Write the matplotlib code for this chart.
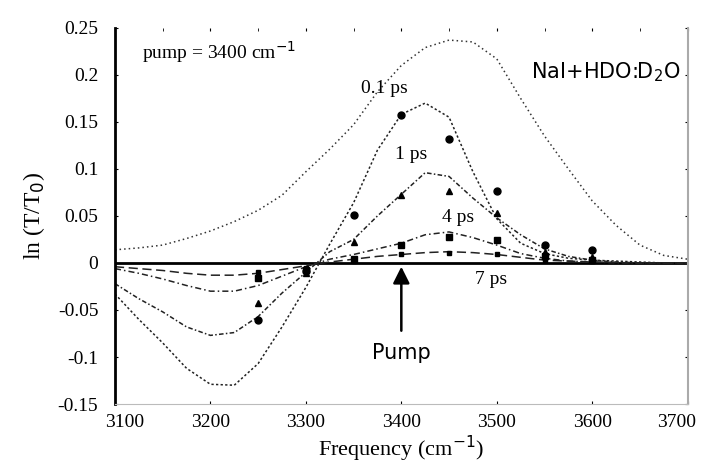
import matplotlib
matplotlib.use("Agg")
import matplotlib.pyplot as plt
import matplotlib.transforms as mtransforms
import numpy as np

# frequency grid the curves were read on (cm-1)
freq = [3100, 3125, 3150, 3175, 3200, 3225, 3250, 3275, 3300, 3325, 3350, 3375, 3400,
        3425, 3450, 3475, 3500, 3525, 3550, 3575, 3600, 3625, 3650, 3675, 3700]

# linear spectrum (broad dotted curve)
spectrum = [0.014, 0.016, 0.019, 0.026, 0.034, 0.044, 0.056, 0.072, 0.097, 0.121, 0.147, 0.182, 0.210,
            0.229, 0.237, 0.235, 0.217, 0.175, 0.135, 0.100, 0.066, 0.040, 0.019, 0.008, 0.004]

# fitted curves
fit_01ps = [-0.033, -0.060, -0.085, -0.112, -0.129, -0.130, -0.107, -0.068, -0.026, 0.020, 0.064, 0.120, 0.158,
            0.170, 0.155, 0.097, 0.047, 0.021, 0.010, 0.005, 0.003, 0.002, 0.001, 0.000, 0.000]
fit_1ps = [-0.022, -0.038, -0.052, -0.068, -0.077, -0.074, -0.057, -0.032, -0.010, 0.012, 0.025, 0.050, 0.073,
           0.096, 0.092, 0.069, 0.048, 0.030, 0.015, 0.007, 0.003, 0.001, 0.000, 0.000, 0.000]
fit_4ps = [-0.006, -0.011, -0.017, -0.024, -0.030, -0.030, -0.024, -0.014, -0.004, 0.004, 0.009, 0.015, 0.021,
           0.030, 0.033, 0.027, 0.019, 0.010, 0.005, 0.002, 0.001, 0.000, 0.000, 0.000, 0.000]
fit_7ps = [-0.004, -0.006, -0.008, -0.011, -0.013, -0.013, -0.011, -0.007, -0.003, 0.001, 0.004, 0.007, 0.009,
           0.011, 0.012, 0.011, 0.009, 0.006, 0.003, 0.002, 0.001, 0.0005, 0.000, 0.000, 0.000]

# measured points
pts_x = [3250, 3300, 3350, 3400, 3450, 3500, 3550, 3600]
pts_01ps = [-0.061, -0.009, 0.051, 0.157, 0.132, 0.076, 0.019, 0.014]
pts_1ps = [-0.043, -0.011, 0.022, 0.072, 0.076, 0.053, 0.012, 0.006]
pts_4ps = [-0.016, -0.007, 0.004, 0.019, 0.028, 0.024, 0.007, 0.003]
pts_7ps = [-0.010, -0.005, 0.002, 0.009, 0.011, 0.010, 0.003, 0.002]

xticks = [3100, 3200, 3300, 3400, 3500, 3600, 3700]
yticks = [-0.15, -0.1, -0.05, 0, 0.05, 0.1, 0.15, 0.2, 0.25]
ytick_labels = ['-0.15', '-0.1', '-0.05', '0', '0.05', '0.1', '0.15', '0.2', '0.25']

plt.rcParams['font.family'] = ['Liberation Serif', 'DejaVu Serif']

fig = plt.figure(figsize=(7.01, 4.72), dpi=100)
ax = fig.add_axes([0.164, 0.144, 0.817, 0.797])

ax.axhline(0, color='black', lw=2, zorder=1)

ax.plot(freq, spectrum, color='#333333', lw=1.1, linestyle=(0, (1, 2)))
ax.plot(freq, fit_01ps, color='#222222', lw=1.1, linestyle=(0, (1.5, 1.5)))
ax.plot(freq, fit_1ps, color='#222222', lw=1.1, linestyle=(0, (3, 1.5, 1, 1.5)))
ax.plot(freq, fit_4ps, color='#222222', lw=1.1, linestyle=(0, (4, 2, 1, 2)))
ax.plot(freq, fit_7ps, color='#222222', lw=1.1, linestyle=(0, (6, 3)))

ax.plot(pts_x, pts_01ps, 'o', color='black', ms=5, linestyle='none')
ax.plot(pts_x, pts_1ps, '^', color='black', ms=5, linestyle='none')
ax.plot(pts_x, pts_4ps, 's', color='black', ms=4.5, linestyle='none')
ax.plot(pts_x, pts_7ps, 's', color='black', ms=3.5, linestyle='none')

ax.text(3382, 0.186, '0.1 ps', fontsize=14, ha='center', va='center')
ax.text(3410, 0.115, '1 ps', fontsize=14, ha='center', va='center')
ax.text(3459, 0.048, '4 ps', fontsize=14, ha='center', va='center')
ax.text(3494, -0.018, '7 ps', fontsize=14, ha='center', va='center')
ax.text(3128, 0.224, 'pump = 3400 cm$^{-1}$', fontsize=14, ha='left', va='center')
ax.text(3692, 0.203, 'NaI+HDO:D$_2$O', fontsize=15, ha='right', va='center',
        family=['DejaVu Sans'])

ax.annotate('', xy=(3400, -0.001), xytext=(3400, -0.075),
            arrowprops=dict(arrowstyle='-|>', color='black', lw=1.8, mutation_scale=25))
ax.text(3400, -0.096, 'Pump', fontsize=15, ha='center', va='center', family=['DejaVu Sans'])

ax.set_xlim(3100, 3700)
ax.set_ylim(-0.15, 0.25)
ax.set_xticks(xticks)
ax.set_yticks(yticks)
ax.set_yticklabels(ytick_labels)
ax.tick_params(direction='in', length=2, labelsize=14, top=True, right=True)
ax.tick_params(axis='x', pad=7)
ax.tick_params(axis='y', pad=12)
ax.set_xticks(np.arange(3150, 3700, 100), minor=True)
ax.tick_params(which='minor', direction='in', length=2, top=True, bottom=False)

# keep the end labels inside the figure
xlabels = ax.get_xticklabels()
xlabels[0].set_transform(xlabels[0].get_transform() +
                         mtransforms.ScaledTranslation(0.10, 0, fig.dpi_scale_trans))
xlabels[-1].set_transform(xlabels[-1].get_transform() +
                          mtransforms.ScaledTranslation(-0.11, 0, fig.dpi_scale_trans))

ax.spines['top'].set_visible(False)
ax.spines['left'].set_linewidth(2)
ax.spines['bottom'].set_color('#bbbbbb')
ax.spines['right'].set_color('#aaaaaa')
ax.spines['right'].set_linewidth(1.5)

ax.set_xlabel('Frequency (cm$^{-1}$)', fontsize=16, labelpad=2)
ax.set_ylabel('ln (T/T$_0$)', fontsize=17, labelpad=8)

fig.savefig('out.png', dpi=100)
